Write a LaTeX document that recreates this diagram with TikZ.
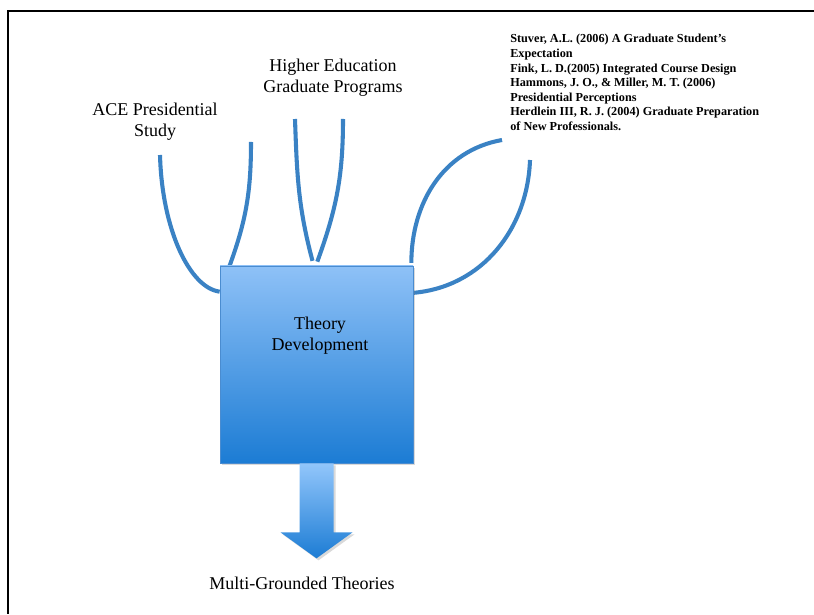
\documentclass[tikz,border=0pt]{standalone}
\usepackage{fontspec}
\setmainfont{Liberation Serif}
\usetikzlibrary{shadows,backgrounds}
\definecolor{linkblue}{HTML}{3A82C4}
\definecolor{boxtop}{HTML}{8EC1F7}
\definecolor{boxmid}{HTML}{64A8EE}
\definecolor{boxbot}{HTML}{1C7CD4}
\definecolor{boxedge}{HTML}{4A8CD0}
\definecolor{arrtop}{HTML}{92C6FB}

\begin{document}
\begin{tikzpicture}[
  lbl/.style={align=center,font=\fontsize{12.8}{15}\selectfont},
  refs/.style={align=left,anchor=north west,inner sep=0pt,font=\fontsize{8.7}{10.4}\selectfont\bfseries},
  link/.style={draw=linkblue,line width=2.9pt},
  boxshade/.style={top color=boxtop,middle color=boxmid,bottom color=boxbot,draw=boxedge,line width=0.5pt,
    drop shadow={shadow xshift=0.06cm,shadow yshift=-0.06cm,opacity=0.3}},
  arrowfill/.style={top color=arrtop,bottom color=boxbot,
    drop shadow={shadow xshift=0.05cm,shadow yshift=-0.05cm,opacity=0.3}}
]
   \useasboundingbox (0,0) rectangle (20.35,15.35);
   \draw[line width=2.1pt] (20.35,15.075) -- (0.2,15.075) -- (0.2,0);

   \path (7.9125,6.2375) node[boxshade,minimum width=4.825cm,minimum height=4.925cm] (theory) {};
   \path (8.0,6.95) node[lbl] (theoryn) {Theory\\Development};

   \path (3.875,12.3) node[lbl] (ace) {ACE Presidential\\Study};
   \path (8.325,13.4) node[lbl] (hied) {Higher Education\\Graduate Programs};
   \path (12.75,14.5) node[refs] (lit)
   {Stuver, A.L. (2006) A Graduate Student's\\
    Expectation\\
    Fink, L. D.(2005) Integrated Course Design\\
    Hammons, J. O., \& Miller, M. T. (2006)\\
    Presidential Perceptions\\
    Herdlein III, R. J. (2004) Graduate Preparation\\
    of New Professionals.};

   % loose ends of the strands
   \coordinate (ace1) at (4.0,11.475);
   \coordinate (ace2) at (6.275,11.8);
   \coordinate (hied1) at (7.375,12.375);
   \coordinate (hied2) at (8.575,12.375);
   \coordinate (lit1) at (12.55,11.85);
   \coordinate (lit2) at (13.25,11.35);

   \begin{scope}[on background layer]
   \draw[link] (ace1) .. controls (4.05,9.6) and (4.75,8.15) .. ([yshift=-0.65cm]theory.north west);
   \draw[link] (ace2) to[out=-90,in=70] ([xshift=0.25cm]theory.north west);
   \draw[link] (hied1) to[out=-88,in=105] ([xshift=-0.1cm,yshift=0.12cm]theory.north);
   \draw[link] (hied2) to[out=-90,in=70] ([xshift=0.02cm,yshift=0.1cm]theory.north);
   \draw[link] (lit1) to[out=190,in=90] ([xshift=-0.05cm,yshift=0.07cm]theory.north east);
   \draw[link] (lit2) to[out=-92,in=5] ([yshift=-0.68cm]theory.north east);
   \end{scope}

   \path[arrowfill] ([xshift=-0.425cm]theory.south) -- ++(0,-1.725) -- ++(-0.475,0)
      -- ([yshift=-2.375cm]theory.south) -- ++(0.9,0.65) -- ++(-0.475,0)
      -- ([xshift=0.425cm]theory.south) -- cycle;
   \path (7.55,0.775) node[lbl] (multi) {Multi-Grounded Theories};
\end{tikzpicture}
\end{document}
